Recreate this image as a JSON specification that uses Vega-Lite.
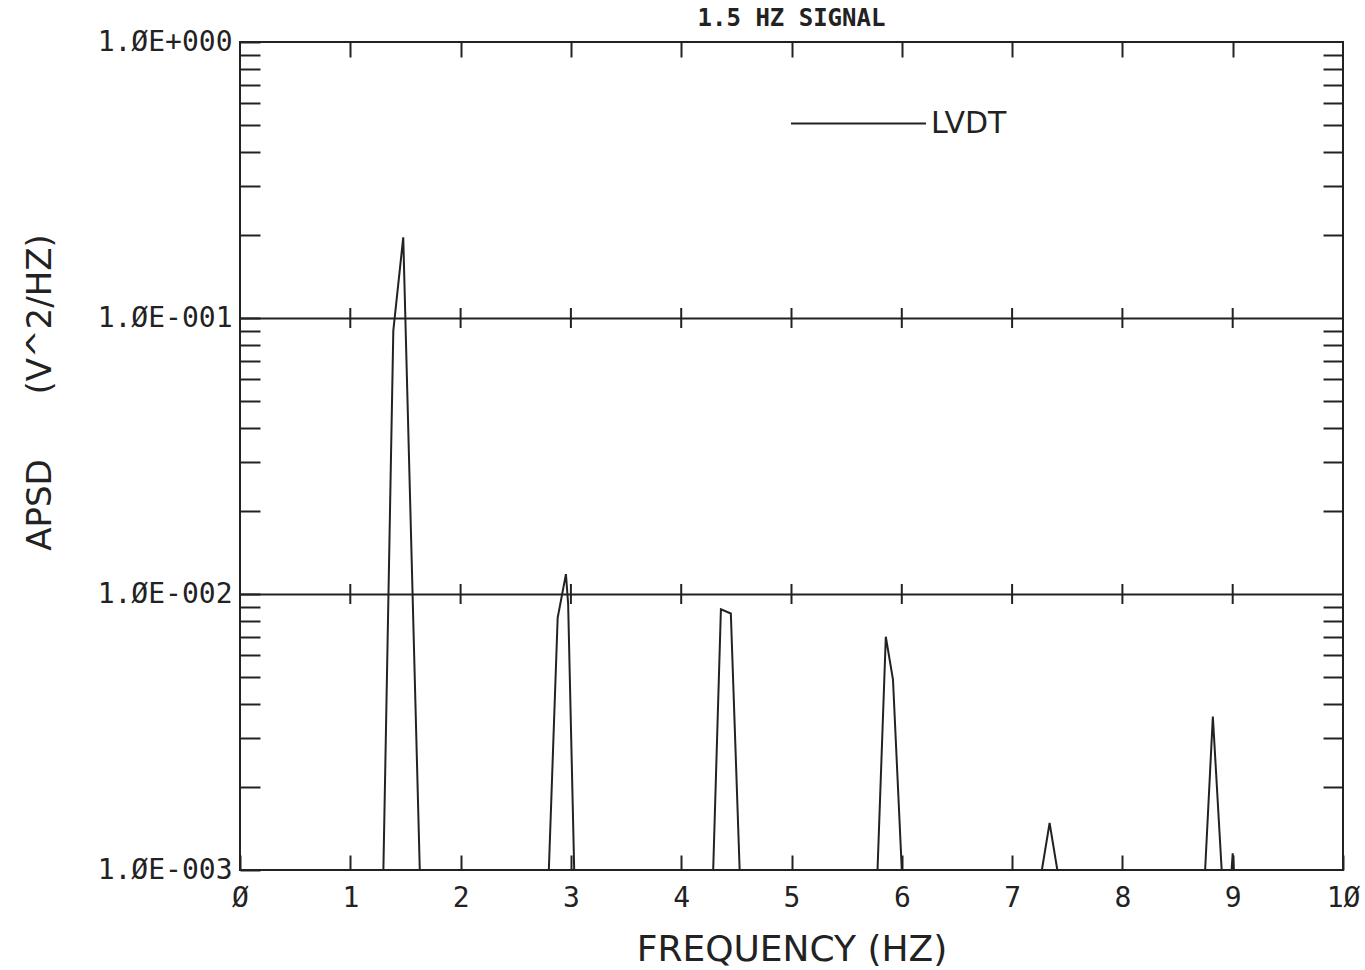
{
  "$schema": "https://vega.github.io/schema/vega-lite/v6.json",
  "autosize": "none",
  "width": 1103,
  "height": 828,
  "padding": {"left": 240, "top": 42, "right": 22, "bottom": 100},
  "background": "white",
  "config": {
    "view": {"stroke": "#222", "strokeWidth": 2},
    "axis": {"domain": false, "labelFont": "DejaVu Sans Mono", "labelColor": "#222", "titleFont": "DejaVu Sans", "titleColor": "#222", "titleFontWeight": "normal", "tickColor": "#222", "tickWidth": 2, "gridColor": "#222", "gridWidth": 2}
  },
  "title": {"text": "1.5 HZ SIGNAL", "font": "DejaVu Sans Mono", "fontSize": 24, "fontWeight": "bold", "color": "#222", "offset": -3, "anchor": "middle"},
  "datasets": {
    "apsd": [
      {"f": 0.0, "p": 0.001, "s": "LVDT"},
      {"f": 1.30, "p": 0.001, "s": "LVDT"},
      {"f": 1.39, "p": 0.09, "s": "LVDT"},
      {"f": 1.48, "p": 0.196, "s": "LVDT"},
      {"f": 1.63, "p": 0.001, "s": "LVDT"},
      {"f": 2.80, "p": 0.001, "s": "LVDT"},
      {"f": 2.88, "p": 0.0082, "s": "LVDT"},
      {"f": 2.955, "p": 0.0118, "s": "LVDT"},
      {"f": 2.975, "p": 0.0092, "s": "LVDT"},
      {"f": 3.03, "p": 0.001, "s": "LVDT"},
      {"f": 4.29, "p": 0.001, "s": "LVDT"},
      {"f": 4.36, "p": 0.0088, "s": "LVDT"},
      {"f": 4.45, "p": 0.0085, "s": "LVDT"},
      {"f": 4.53, "p": 0.001, "s": "LVDT"},
      {"f": 5.78, "p": 0.001, "s": "LVDT"},
      {"f": 5.855, "p": 0.0070, "s": "LVDT"},
      {"f": 5.92, "p": 0.0049, "s": "LVDT"},
      {"f": 6.0, "p": 0.001, "s": "LVDT"},
      {"f": 7.27, "p": 0.001, "s": "LVDT"},
      {"f": 7.34, "p": 0.00148, "s": "LVDT"},
      {"f": 7.41, "p": 0.001, "s": "LVDT"},
      {"f": 8.75, "p": 0.001, "s": "LVDT"},
      {"f": 8.82, "p": 0.0036, "s": "LVDT"},
      {"f": 8.90, "p": 0.001, "s": "LVDT"},
      {"f": 8.99, "p": 0.001, "s": "LVDT"},
      {"f": 9.0, "p": 0.00115, "s": "LVDT"},
      {"f": 9.01, "p": 0.001, "s": "LVDT"},
      {"f": 10.0, "p": 0.001, "s": "LVDT"}
    ],
    "crosses": [
      {"f": 1, "p": 0.1}, {"f": 2, "p": 0.1}, {"f": 3, "p": 0.1}, {"f": 4, "p": 0.1}, {"f": 5, "p": 0.1},
      {"f": 6, "p": 0.1}, {"f": 7, "p": 0.1}, {"f": 8, "p": 0.1}, {"f": 9, "p": 0.1},
      {"f": 1, "p": 0.01}, {"f": 2, "p": 0.01}, {"f": 3, "p": 0.01}, {"f": 4, "p": 0.01}, {"f": 5, "p": 0.01},
      {"f": 6, "p": 0.01}, {"f": 7, "p": 0.01}, {"f": 8, "p": 0.01}, {"f": 9, "p": 0.01}
    ]
  },
  "resolve": {"axis": {"x": "independent", "y": "independent"}},
  "layer": [
    {
      "data": {"name": "apsd"},
      "mark": {"type": "line", "strokeWidth": 2, "clip": true},
      "encoding": {
        "x": {
          "field": "f", "type": "quantitative",
          "scale": {"domain": [0, 10], "nice": false, "zero": false},
          "axis": {
            "orient": "bottom", "values": [0,1,2,3,4,5,6,7,8,9,10], "tickSize": -15,
            "labelExpr": "replace(datum.label, /0/g, 'Ø')", "labelFontSize": 28, "labelPadding": 29, "labelFlush": false, "labelOverlap": false,
            "grid": false,
            "title": "FREQUENCY (HZ)", "titleFontSize": 36, "titlePadding": 20
          }
        },
        "y": {
          "field": "p", "type": "quantitative",
          "scale": {"type": "log", "domain": [0.001, 1], "nice": false},
          "axis": {
            "orient": "left",
            "values": [0.001,0.002,0.003,0.004,0.005,0.006,0.007,0.008,0.009,0.01,0.02,0.03,0.04,0.05,0.06,0.07,0.08,0.09,0.1,0.2,0.3,0.4,0.5,0.6,0.7,0.8,0.9,1],
            "tickSize": -20,
            "labelExpr": "datum.value == 1 ? '1.ØE+000' : datum.value == 0.1 ? '1.ØE-001' : datum.value == 0.01 ? '1.ØE-002' : datum.value == 0.001 ? '1.ØE-003' : ''",
            "labelFontSize": 28, "labelPadding": 28, "labelOverlap": false, "labelFlush": false,
            "grid": true,
            "gridOpacity": {"condition": {"test": "datum.value == 0.1 || datum.value == 0.01", "value": 1}, "value": 0},
            "title": "APSD\u00a0\u00a0\u00a0\u00a0\u00a0\u00a0(V^2/HZ)", "titleFontSize": 34, "titleAngle": -90, "titleX": -200, "titleY": 350, "titleAlign": "center", "titleBaseline": "middle"
          }
        },
        "color": {
          "field": "s", "type": "nominal",
          "scale": {"range": ["#222"]},
          "legend": {
            "title": null, "orient": "none", "legendX": 550, "legendY": 13, "padding": 0,
            "symbolType": "stroke", "symbolSize": 18225, "symbolStrokeWidth": 2, "symbolStrokeColor": "#222",
            "labelFont": "DejaVu Sans", "labelFontSize": 30, "labelColor": "#222", "labelOffset": 4
          }
        }
      }
    },
    {
      "data": {"name": "crosses"},
      "mark": {"type": "point", "shape": "M0,-1L0,1", "size": 400, "filled": false, "strokeWidth": 2, "color": "#222", "opacity": 1},
      "encoding": {
        "x": {
          "field": "f", "type": "quantitative",
          "axis": {"orient": "top", "values": [1,2,3,4,5,6,7,8,9], "tickSize": -15, "labels": false, "grid": false, "title": null}
        },
        "y": {
          "field": "p", "type": "quantitative",
          "axis": {
            "orient": "right",
            "values": [0.002,0.003,0.004,0.005,0.006,0.007,0.008,0.009,0.02,0.03,0.04,0.05,0.06,0.07,0.08,0.09,0.2,0.3,0.4,0.5,0.6,0.7,0.8,0.9],
            "tickSize": -20, "labels": false, "grid": false, "title": null
          }
        }
      }
    }
  ]
}
